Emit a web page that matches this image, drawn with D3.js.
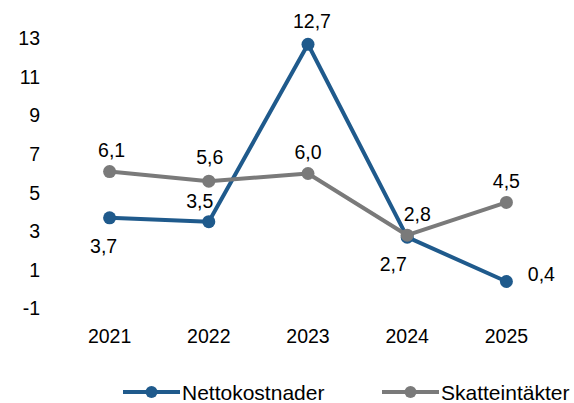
<!DOCTYPE html>
<html><head><meta charset="utf-8">
<script src="https://cdn.jsdelivr.net/npm/d3@7"></script>
<style>body{margin:0;background:#fff}svg{display:block}text{font-family:"Liberation Sans",Arial,sans-serif;fill:#000}</style>
</head><body>
<svg id="c" width="574" height="403"></svg>
<script>
const years = ["2021","2022","2023","2024","2025"];
const netto = [3.7, 3.5, 12.7, 2.7, 0.4];
const skatt = [6.1, 5.6, 6.0, 2.8, 4.5];
const yTicks = [-1, 1, 3, 5, 7, 9, 11, 13];
const seriesNames = ["Nettokostnader", "Skatteintäkter"];

const colors = ["#1F5A8C", "#7A7A7A"];
const fs = 19.5;
const svg = d3.select("#c");
const x = d3.scaleBand().domain(years).range([60, 556]);
const y = d3.scaleLinear().domain([-1, 13]).range([308.5, 38.5]);
const cx = d => x(d) + x.bandwidth() / 2;

// y axis
const ya = svg.append("g").attr("transform", "translate(40,0)")
  .call(d3.axisLeft(y).tickValues(yTicks).tickSize(0).tickPadding(0).tickFormat(d => String(d)));
ya.select(".domain").remove();
ya.selectAll("text").style("font-size", fs + "px").attr("font-family", null);

// x axis
const xa = svg.append("g").attr("transform", "translate(0,329)")
  .call(d3.axisBottom(x).tickSize(0).tickPadding(0));
xa.select(".domain").remove();
xa.selectAll("text").style("font-size", fs + "px").attr("font-family", null).attr("dy", "0.71em");

const fmt = v => d3.format(".1f")(v).replace(".", ",");
const line = d3.line().x((d, i) => cx(years[i])).y(d => y(d));

// label offsets (dx, dy relative to point)
const offNetto = [[-6, 28], [-9, -21], [4, -23], [-14, 27], [35, -8]];
const offSkatt = [[2, -22], [1, -24], [0, -22], [10, -21], [0, -21]];

const data = [netto, skatt];
const offs = [offNetto, offSkatt];
data.forEach((vals, s) => {
  svg.append("path").datum(vals).attr("d", line)
    .attr("fill", "none").attr("stroke", colors[s]).attr("stroke-width", 4).attr("stroke-linejoin", "round");
});
data.forEach((vals, s) => {
  svg.append("g").selectAll("circle").data(vals).join("circle")
    .attr("cx", (d, i) => cx(years[i])).attr("cy", d => y(d)).attr("r", 6.5)
    .attr("fill", colors[s]);
});
data.forEach((vals, s) => {
  svg.append("g").selectAll("text").data(vals).join("text")
    .attr("x", (d, i) => cx(years[i]) + offs[s][i][0])
    .attr("y", (d, i) => y(d) + offs[s][i][1])
    .attr("text-anchor", "middle").attr("dominant-baseline", "central")
    .style("font-size", fs + "px").text(d => fmt(d));
});

// legend
const legX = [123, 382];
seriesNames.forEach((n, s) => {
  const g = svg.append("g").attr("transform", `translate(${legX[s]},392)`);
  g.append("line").attr("x1", 0).attr("x2", 57).attr("stroke", colors[s]).attr("stroke-width", 4);
  g.append("circle").attr("cx", 28.5).attr("r", 6).attr("fill", colors[s]);
  g.append("text").attr("x", 59).attr("dominant-baseline", "central").style("font-size", "21px").text(n);
});
</script>
</body></html>
